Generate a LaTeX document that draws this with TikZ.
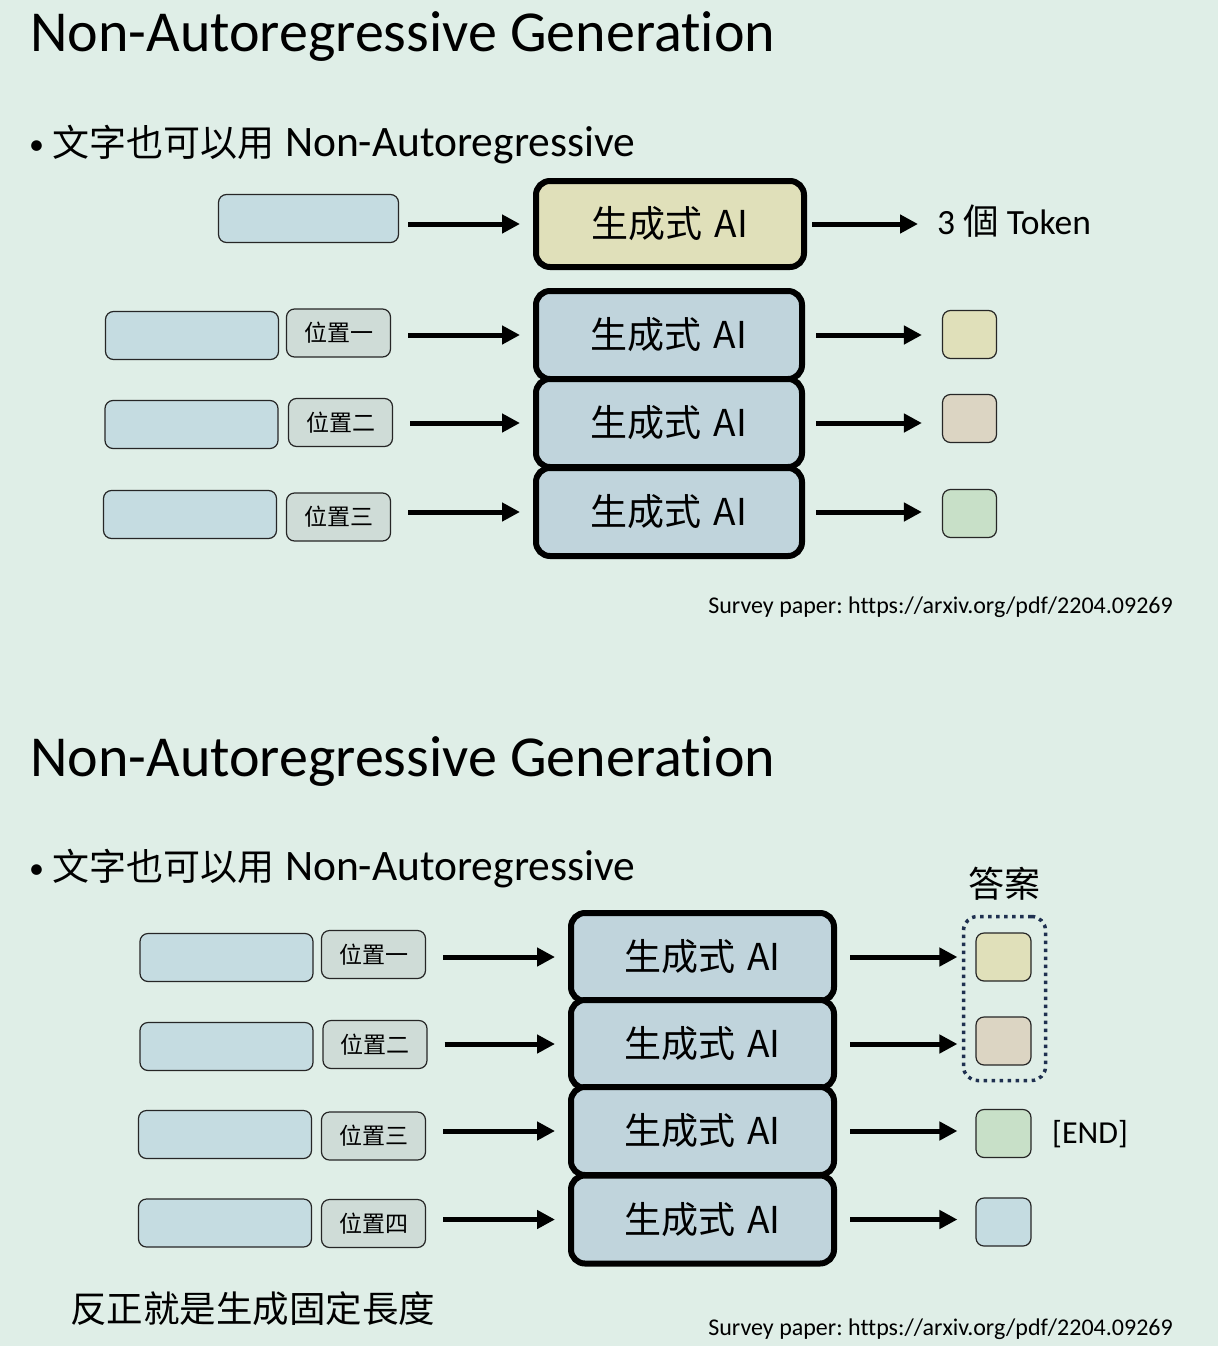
\documentclass[tikz,border=0pt]{standalone}
\usepackage{fontspec}
\setmainfont{Carlito}[Ligatures=NoCommon]
\newfontfamily\cjk{Noto Sans CJK TC}
\usetikzlibrary{arrows.meta}
\frenchspacing
\definecolor{bgc}{HTML}{DFEEE7}
\definecolor{inblue}{HTML}{C5DCE1}
\definecolor{posgray}{HTML}{CFDCD7}
\definecolor{aiblue}{HTML}{C0D4DC}
\definecolor{yel}{HTML}{E0E0BA}
\definecolor{tan}{HTML}{DCD5C3}
\definecolor{grn}{HTML}{C8E0C8}
\definecolor{navy}{HTML}{1F3050}
\newcommand{\gai}{生成式\hspace{0.32em}AI}
\newcommand{\bline}{{\cjk\fontsize{37}{40}\selectfont 文字也可以用}\hspace{0.25em}Non-Autoregressive}
\tikzset{
  inbox/.style={draw=black!85, line width=1.2pt, rounded corners=8pt, fill=inblue, minimum width=173pt, minimum height=48pt, inner sep=0pt},
  posbox/.style={draw=black!85, line width=1.2pt, rounded corners=8pt, fill=posgray, minimum width=104pt, minimum height=48pt, inner sep=0pt, font=\cjk\fontsize{23}{26}\selectfont},
  aibox/.style={draw=black, line width=6pt, rounded corners=14pt, fill=aiblue, minimum width=266pt, minimum height=88pt, inner sep=0pt, font=\cjk\fontsize{37}{40}\selectfont},
  outbox/.style={draw=black!85, line width=1.2pt, rounded corners=8pt, minimum width=54pt, minimum height=48pt, inner sep=0pt},
  arr/.style={line width=5pt, -{Triangle[length=18pt,width=18pt]}},
  ttl/.style={font=\fontsize{58}{64}\selectfont, inner sep=0pt},
  bul/.style={font=\fontsize{43.5}{48}\selectfont, inner sep=0pt},
  dot/.style={font=\fontsize{30}{34}\selectfont, inner sep=0pt},
  ref/.style={font=\fontsize{24}{28}\selectfont, inner sep=0pt},
}
\begin{document}
\begin{tikzpicture}[x=1pt,y=-1pt]
\path[fill=bgc, use as bounding box] (0,0) rectangle (1218,1346);

% ---------- top slide ----------
\node[ttl, anchor=base west] (t1) at (30,52) {Non-Autoregressive Generation};
\node[dot, anchor=base west] (b1) at (29,154) {•};
\node[bul, anchor=base west] (bt1) at (52,156) {\bline};

\node[inbox, minimum width=180pt] (tin) at (308.5,218.5) {};
\node[aibox, fill=yel, minimum width=268pt, minimum height=86pt] (tai) at (670,224) {\gai};
\node[bul, anchor=base west, font=\fontsize{35.5}{40}\selectfont] (tok) at (937,234) {3 {\cjk 個} Token};
\draw[arr, shorten <=9pt, shorten >=13pt] (tin.east |- tai) -- (tai.west);
\draw[arr, shorten <=5pt, shorten >=19pt] (tai.east) -- (tai.east -| tok.west);

\node[inbox] (i1) at (192,335.5) {};
\node[inbox] (i2) at (191.5,424.5) {};
\node[inbox] (i3) at (190,514.5) {};
\node[posbox] (p1) at (338.5,333) {位置一};
\node[posbox] (p2) at (340.5,422.5) {位置二};
\node[posbox] (p3) at (338.5,517) {位置三};
\node[aibox] (a1) at (669,335) {\gai};
\node[aibox] (a2) at (669,423) {\gai};
\node[aibox] (a3) at (669,512) {\gai};
\node[outbox, fill=yel] (o1) at (969.5,334.5) {};
\node[outbox, fill=tan] (o2) at (969.5,418.5) {};
\node[outbox, fill=grn] (o3) at (969.5,513.5) {};
\foreach \k in {1,2,3}{
  \draw[arr, shorten <=17pt, shorten >=13pt] (p\k.east |- a\k) -- (a\k.west);
  \draw[arr, shorten <=11pt, shorten >=20pt] (a\k.east) -- (o\k.west |- a\k);
}
\node[ref, anchor=base east] (s1) at (1173,613) {Survey paper: https://arxiv.org/pdf/2204.09269};

% ---------- bottom slide ----------
\node[ttl, anchor=base west] (t2) at (30,776) {Non-Autoregressive Generation};
\node[dot, anchor=base west] (b2) at (29,878) {•};
\node[bul, anchor=base west] (bt2) at (52,880) {\bline};

\node[inbox] (j1) at (226.5,957.5) {};
\node[inbox] (j2) at (226.5,1046.5) {};
\node[inbox] (j3) at (225,1134.5) {};
\node[inbox] (j4) at (225,1223) {};
\node[posbox] (q1) at (373.5,954.5) {位置一};
\node[posbox] (q2) at (375,1044.5) {位置二};
\node[posbox] (q3) at (373.5,1136) {位置三};
\node[posbox] (q4) at (373.5,1223.5) {位置四};
\node[aibox, minimum width=263pt] (c1) at (702.5,957) {\gai};
\node[aibox, minimum width=263pt] (c2) at (702.5,1044) {\gai};
\node[aibox, minimum width=263pt] (c3) at (702.5,1131) {\gai};
\node[aibox, minimum width=263pt] (c4) at (702.5,1219.5) {\gai};
\node[outbox, minimum width=55pt, fill=yel] (r1) at (1003.5,957) {};
\node[outbox, minimum width=55pt, fill=tan] (r2) at (1003.5,1041) {};
\node[outbox, minimum width=55pt, fill=grn] (r3) at (1003.5,1133.5) {};
\node[outbox, minimum width=55pt, fill=inblue] (r4) at (1003.5,1222) {};
\foreach \k in {1,2,3,4}{
  \draw[arr, shorten <=17pt, shorten >=13pt] (q\k.east |- c\k) -- (c\k.west);
  \draw[arr, shorten <=13pt, shorten >=18pt] (c\k.east) -- (r\k.west |- c\k);
}
\node[draw=navy, line width=3.5pt, dash pattern=on 3.5pt off 4.5pt, rounded corners=14pt, minimum width=82pt, minimum height=164pt, inner sep=0pt] (ans) at (1004.5,998.5) {};
\node[font=\cjk\fontsize{36}{40}\selectfont, inner sep=0pt] (anst) at (1004,884) {答案};
\node[bul, anchor=west, font=\fontsize{32}{36}\selectfont] (endt) at (1052,1134) {[END]};
\node[anchor=west, font=\cjk\fontsize{36.5}{40}\selectfont, inner sep=0pt] (fix) at (70,1309) {反正就是生成固定長度};
\node[ref, anchor=base east] (s2) at (1173,1335) {Survey paper: https://arxiv.org/pdf/2204.09269};
\end{tikzpicture}
\end{document}
